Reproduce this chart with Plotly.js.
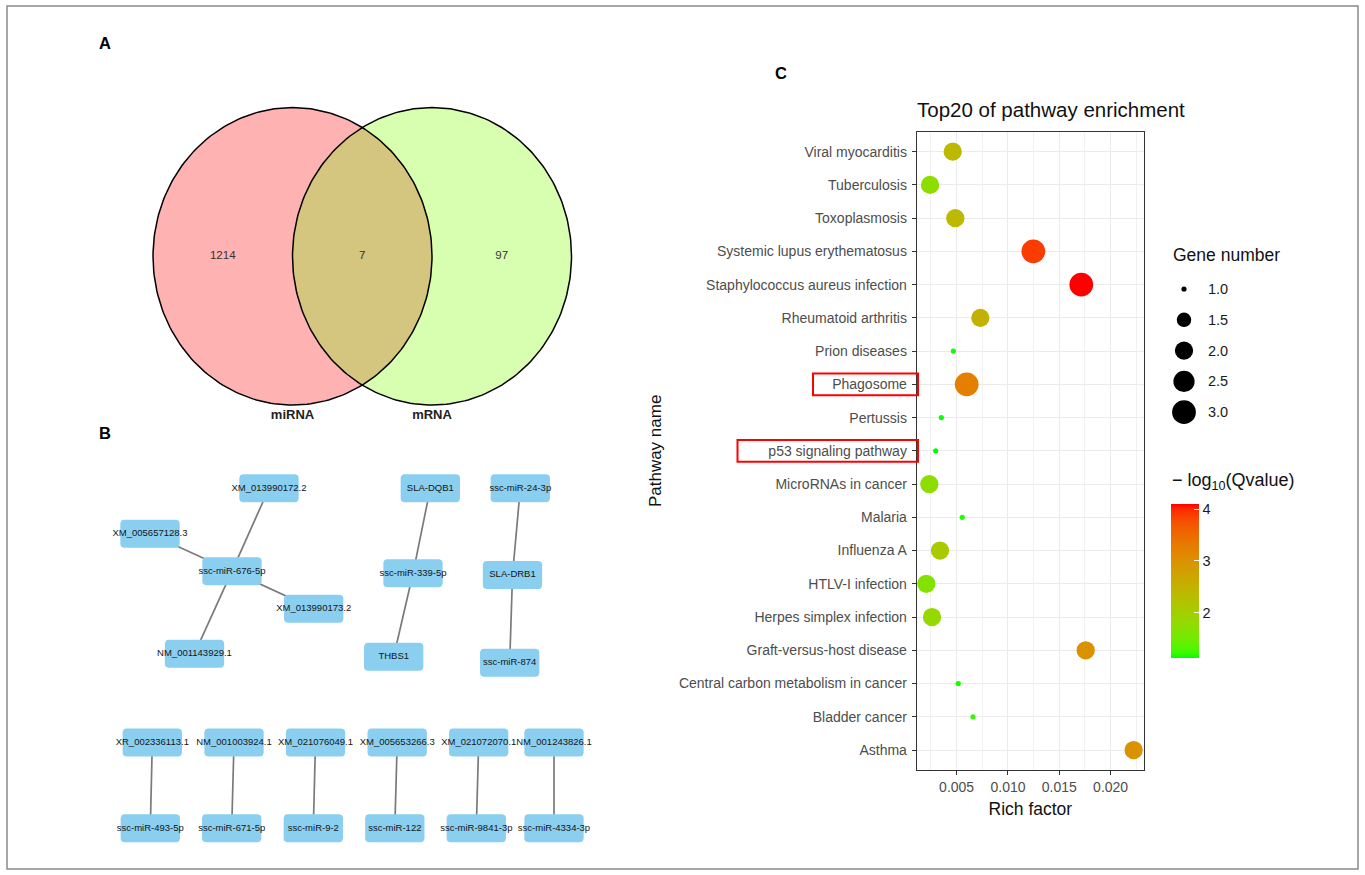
<!DOCTYPE html>
<html>
<head>
<meta charset="utf-8">
<script src="https://cdn.plot.ly/plotly-3.0.1.min.js"></script>
<style>
  html, body { margin: 0; padding: 0; background: #ffffff; }
  #chart { width: 1365px; height: 875px; }
</style>
</head>
<body>
<div id="chart"></div>
<script>
// ---------------- DATA ----------------
// Panel A: Venn
const vennSets = ['miRNA', 'mRNA'];
const vennCounts = [1214, 7, 97]; // miRNA only, both, mRNA only

// Panel B: network (node names + layout coordinates from the network layout)
const nodeNames = [
  'XM_013990172.2', 'XM_005657128.3', 'ssc-miR-676-5p', 'XM_013990173.2', 'NM_001143929.1',
  'SLA-DQB1', 'ssc-miR-339-5p', 'THBS1',
  'ssc-miR-24-3p', 'SLA-DRB1', 'ssc-miR-874',
  'XR_002336113.1', 'NM_001003924.1', 'XM_021076049.1', 'XM_005653266.3', 'XM_021072070.1', 'NM_001243826.1',
  'ssc-miR-493-5p', 'ssc-miR-671-5p', 'ssc-miR-9-2', 'ssc-miR-122', 'ssc-miR-9841-3p', 'ssc-miR-4334-3p'
];
const nodeX = [269, 150, 232, 313.7, 194.5, 430.3, 413, 393.7, 520.3, 512.5, 509.7,
               152.3, 234, 315.5, 397.2, 478.7, 554, 150.3, 231.7, 313.3, 394.8, 476.3, 554];
const nodeY = [488.3, 533.7, 571.2, 608.7, 653.7, 488.3, 573.3, 656.7, 488.3, 575, 662.7,
               742.5, 742.5, 742.5, 742.5, 742.5, 742.5, 828.3, 828.3, 828.3, 828.3, 828.3, 828.3];
const edgeSource = ['ssc-miR-676-5p', 'ssc-miR-676-5p', 'ssc-miR-676-5p', 'ssc-miR-676-5p',
  'ssc-miR-339-5p', 'ssc-miR-339-5p', 'ssc-miR-24-3p', 'ssc-miR-874',
  'ssc-miR-493-5p', 'ssc-miR-671-5p', 'ssc-miR-9-2', 'ssc-miR-122', 'ssc-miR-9841-3p', 'ssc-miR-4334-3p'];
const edgeTarget = ['XM_013990172.2', 'XM_005657128.3', 'XM_013990173.2', 'NM_001143929.1',
  'SLA-DQB1', 'THBS1', 'SLA-DRB1', 'SLA-DRB1',
  'XR_002336113.1', 'NM_001003924.1', 'XM_021076049.1', 'XM_005653266.3', 'XM_021072070.1', 'NM_001243826.1'];

// Panel C: KEGG enrichment
const pathways = ['Viral myocarditis', 'Tuberculosis', 'Toxoplasmosis', 'Systemic lupus erythematosus',
  'Staphylococcus aureus infection', 'Rheumatoid arthritis', 'Prion diseases', 'Phagosome', 'Pertussis',
  'p53 signaling pathway', 'MicroRNAs in cancer', 'Malaria', 'Influenza A', 'HTLV-I infection',
  'Herpes simplex infection', 'Graft-versus-host disease', 'Central carbon metabolism in cancer',
  'Bladder cancer', 'Asthma'];
const richFactor = [0.00462, 0.00241, 0.00487, 0.01247, 0.01714, 0.00731, 0.00468, 0.00598, 0.00351,
  0.00296, 0.00234, 0.00555, 0.00338, 0.00205, 0.00260, 0.01757, 0.00516, 0.00659, 0.02224];
const geneNumber = [2, 2, 2, 3, 3, 2, 1, 3, 1, 1, 2, 1, 2, 2, 2, 2, 1, 1, 2];
const negLog10Q = [2.40, 1.75, 2.40, 3.90, 4.10, 2.50, 1.15, 3.25, 1.14, 1.12, 1.75, 1.18, 2.10, 1.65,
  1.85, 3.00, 1.16, 1.20, 3.00];
const highlighted = ['Phagosome', 'p53 signaling pathway'];
const xTickVals = [0.005, 0.010, 0.015, 0.020];
const xTickText = ['0.005', '0.010', '0.015', '0.020'];
const sizeBreaks = [1.0, 1.5, 2.0, 2.5, 3.0];
const sizeBreakLabels = ['1.0', '1.5', '2.0', '2.5', '3.0'];
const colorTicks = [2, 3, 4];

// ---------------- HELPERS ----------------
const W = 1365, H = 875;
const FONT = 'Liberation Sans, Arial, Helvetica, sans-serif';
const px = v => v / W;
const py = v => 1 - v / H;

// ggplot2-like area size scale (range 1..6 mm)
const gMin = Math.min(...geneNumber), gMax = Math.max(...geneNumber);
function dotDiameter(v) {
  const t = (v - gMin) / (gMax - gMin);
  return 3.7 * (1 + 5 * Math.sqrt(Math.max(0, t))) + 1.5;
}

// Lab interpolation green -> red (like scale_colour_gradient)
function toLin(c) { c /= 255; return c <= 0.04045 ? c / 12.92 : Math.pow((c + 0.055) / 1.055, 2.4); }
function toSrgb(c) { c = c <= 0.0031308 ? 12.92 * c : 1.055 * Math.pow(c, 1 / 2.4) - 0.055; return Math.round(Math.min(1, Math.max(0, c)) * 255); }
function rgb2lab(r, g, b) {
  const R = toLin(r), G = toLin(g), B = toLin(b);
  const X = (0.4124 * R + 0.3576 * G + 0.1805 * B) / 0.95047;
  const Y = (0.2126 * R + 0.7152 * G + 0.0722 * B);
  const Z = (0.0193 * R + 0.1192 * G + 0.9505 * B) / 1.08883;
  const f = t => t > 0.008856 ? Math.cbrt(t) : 7.787 * t + 16 / 116;
  const fx = f(X), fy = f(Y), fz = f(Z);
  return [116 * fy - 16, 500 * (fx - fy), 200 * (fy - fz)];
}
function lab2rgb(L, a, b) {
  const fy = (L + 16) / 116, fx = fy + a / 500, fz = fy - b / 200;
  const inv = t => (t * t * t > 0.008856 ? t * t * t : (t - 16 / 116) / 7.787);
  const X = inv(fx) * 0.95047, Y = inv(fy), Z = inv(fz) * 1.08883;
  const R = 3.2406 * X - 1.5372 * Y - 0.4986 * Z;
  const G = -0.9689 * X + 1.8758 * Y + 0.0415 * Z;
  const B = 0.0557 * X - 0.2040 * Y + 1.0570 * Z;
  return 'rgb(' + toSrgb(R) + ',' + toSrgb(G) + ',' + toSrgb(B) + ')';
}
const labLow = rgb2lab(0, 255, 0), labHigh = rgb2lab(255, 0, 0);
const colorscale = [];
for (let i = 0; i <= 30; i++) {
  const t = i / 30;
  colorscale.push([t, lab2rgb(labLow[0] + t * (labHigh[0] - labLow[0]),
    labLow[1] + t * (labHigh[1] - labLow[1]), labLow[2] + t * (labHigh[2] - labLow[2]))]);
}

// ---------------- PANEL A: VENN ----------------
// unit geometry: circles of radius 1 centred at 0 and 1 (centre distance = radius)
function circlePts(cx, n) {
  const xs = [], ys = [];
  for (let i = 0; i <= n; i++) { const a = 2 * Math.PI * i / n; xs.push(cx + Math.cos(a)); ys.push(Math.sin(a)); }
  return [xs, ys];
}
const cL = circlePts(0, 240), cR = circlePts(1, 240);
const lensX = [], lensY = [];
for (let i = 0; i <= 60; i++) { const a = (-60 + 120 * i / 60) * Math.PI / 180; lensX.push(Math.cos(a)); lensY.push(Math.sin(a)); }
for (let i = 0; i <= 60; i++) { const a = (120 + 120 * i / 60) * Math.PI / 180; lensX.push(1 + Math.cos(a)); lensY.push(Math.sin(a)); }

const traces = [];
traces.push({ x: cL[0], y: cL[1], xaxis: 'x2', yaxis: 'y2', mode: 'lines', fill: 'toself',
  fillcolor: '#FFB2B2', line: { width: 0 }, hoverinfo: 'skip', showlegend: false });
traces.push({ x: cR[0], y: cR[1], xaxis: 'x2', yaxis: 'y2', mode: 'lines', fill: 'toself',
  fillcolor: '#D8FFB0', line: { width: 0 }, hoverinfo: 'skip', showlegend: false });
traces.push({ x: lensX, y: lensY, xaxis: 'x2', yaxis: 'y2', mode: 'lines', fill: 'toself',
  fillcolor: '#D5C67F', line: { width: 0 }, hoverinfo: 'skip', showlegend: false });
traces.push({ x: cL[0].concat([null], cR[0]), y: cL[1].concat([null], cR[1]), xaxis: 'x2', yaxis: 'y2',
  mode: 'lines', line: { color: '#000000', width: 1.5 }, hoverinfo: 'skip', showlegend: false });
traces.push({ x: [-0.5, 0.5, 1.5], y: [0, 0, 0], xaxis: 'x2', yaxis: 'y2', mode: 'text',
  text: vennCounts.map(String), textfont: { family: FONT, size: 11.5, color: '#333333' },
  hoverinfo: 'skip', showlegend: false, cliponaxis: false });
traces.push({ x: [0, 1], y: [-1.075, -1.075], xaxis: 'x2', yaxis: 'y2', mode: 'text',
  text: vennSets.map(s => '<b>' + s + '</b>'), textfont: { family: FONT, size: 13, color: '#222222' },
  hoverinfo: 'skip', showlegend: false, cliponaxis: false });

// ---------------- PANEL B: NETWORK ----------------
const idx = {}; nodeNames.forEach((n, i) => idx[n] = i);
const ex = [], ey = [];
edgeSource.forEach((s, i) => {
  const a = idx[s], b = idx[edgeTarget[i]];
  ex.push(nodeX[a], nodeX[b], null); ey.push(nodeY[a], nodeY[b], null);
});
traces.push({ x: ex, y: ey, xaxis: 'x3', yaxis: 'y3', mode: 'lines', line: { color: '#7a7a7a', width: 1.7 },
  hoverinfo: 'skip', showlegend: false });
const bw = 59.3, bh = 28, br = 3.5;
const bx = [], by = [];
nodeNames.forEach((n, i) => {
  const cx = nodeX[i], cy = nodeY[i];
  const x0 = cx - bw / 2, x1 = cx + bw / 2, y0 = cy - bh / 2, y1 = cy + bh / 2;
  const corners = [[x1 - br, y0 + br, -90], [x1 - br, y1 - br, 0], [x0 + br, y1 - br, 90], [x0 + br, y0 + br, 180]];
  corners.forEach(c => {
    for (let k = 0; k <= 6; k++) {
      const a = (c[2] + 90 * k / 6) * Math.PI / 180;
      bx.push(c[0] + br * Math.cos(a)); by.push(c[1] + br * Math.sin(a));
    }
  });
  bx.push(x1 - br, null); by.push(y0, null);
});
traces.push({ x: bx, y: by, xaxis: 'x3', yaxis: 'y3', mode: 'lines', fill: 'toself', fillcolor: '#8ACEF0',
  line: { width: 0 }, hoverinfo: 'skip', showlegend: false });
traces.push({ x: nodeX, y: nodeY, xaxis: 'x3', yaxis: 'y3', mode: 'text', text: nodeNames,
  textfont: { family: FONT, size: 9.5, color: '#151515' }, hoverinfo: 'skip', showlegend: false, cliponaxis: false });

// ---------------- PANEL C: DOT PLOT ----------------
traces.push({
  x: richFactor, y: pathways, xaxis: 'x', yaxis: 'y', mode: 'markers', type: 'scatter',
  marker: {
    size: geneNumber.map(dotDiameter), color: negLog10Q, colorscale: colorscale, showscale: true,
    line: { width: 0 }, opacity: 1,
    colorbar: {
      x: px(1170.7), xanchor: 'left', xref: 'paper', y: py(658), yanchor: 'bottom', yref: 'paper',
      len: 153.7, lenmode: 'pixels', thickness: 28, thicknessmode: 'pixels',
      xpad: 0, ypad: 0, outlinewidth: 0, tickvals: colorTicks, ticktext: colorTicks.map(String),
      ticks: 'inside', ticklen: 5, tickcolor: '#ffffff', tickwidth: 1, ticklabelstandoff: 4,
      tickfont: { family: FONT, size: 14.5, color: '#1a1a1a' }
    }
  },
  hovertemplate: '%{y}<br>Rich factor %{x}<extra></extra>', showlegend: false, cliponaxis: false
});

// size legend
const legY = sizeBreaks.map((v, i) => 289 + i * 30.8);
traces.push({ x: sizeBreaks.map(() => 1184), y: legY, xaxis: 'x3', yaxis: 'y3', mode: 'markers',
  marker: { size: sizeBreaks.map(dotDiameter), color: '#000000', opacity: 1, line: { width: 0 } },
  hoverinfo: 'skip', showlegend: false, cliponaxis: false });

const annotations = [
  { text: '<b>A</b>', x: px(105), y: py(43), xref: 'paper', yref: 'paper', xanchor: 'center', yanchor: 'middle', showarrow: false, font: { family: FONT, size: 16.5, color: '#000' } },
  { text: '<b>B</b>', x: px(105), y: py(433), xref: 'paper', yref: 'paper', xanchor: 'center', yanchor: 'middle', showarrow: false, font: { family: FONT, size: 16.5, color: '#000' } },
  { text: '<b>C</b>', x: px(781), y: py(73), xref: 'paper', yref: 'paper', xanchor: 'center', yanchor: 'middle', showarrow: false, font: { family: FONT, size: 16.5, color: '#000' } },
  { text: 'Gene number', x: px(1171), y: py(255), xref: 'paper', yref: 'paper', xanchor: 'left', yanchor: 'middle', showarrow: false, font: { family: FONT, size: 17.5, color: '#111' } },
  { text: '\u2212 log<sub>10</sub>(Qvalue)', x: px(1170), y: py(481), xref: 'paper', yref: 'paper', xanchor: 'left', yanchor: 'middle', showarrow: false, font: { family: FONT, size: 18, color: '#111' } }
];
sizeBreakLabels.forEach((t, i) => annotations.push({ text: t, x: 1206, y: legY[i], xref: 'x3', yref: 'y3',
  xanchor: 'left', yanchor: 'middle', showarrow: false, font: { family: FONT, size: 14.5, color: '#1a1a1a' } }));

const shapes = [
  { type: 'rect', xref: 'paper', yref: 'paper', x0: px(7), x1: px(1358), y0: py(869), y1: py(6),
    line: { color: '#8a8a8a', width: 1.5 }, fillcolor: 'rgba(0,0,0,0)' }
];
const hlLeft = { 'Phagosome': 813, 'p53 signaling pathway': 737.5 };
highlighted.forEach(h => {
  const k = pathways.indexOf(h);
  shapes.push({ type: 'rect', xref: 'paper', yref: 'y', x0: px(hlLeft[h]), x1: px(918), y0: k - 0.33, y1: k + 0.33,
    line: { color: '#FF0000', width: 2 }, fillcolor: 'rgba(0,0,0,0)' });
});

const layout = {
  width: W, height: H, margin: { l: 0, r: 0, t: 0, b: 0 },
  paper_bgcolor: '#ffffff', plot_bgcolor: 'rgba(0,0,0,0)',
  font: { family: FONT },
  showlegend: false,
  title: { text: 'Top20 of pathway enrichment', x: px(917), xref: 'paper', xanchor: 'left',
    y: py(110), yref: 'paper', yanchor: 'middle', font: { family: FONT, size: 20.5, color: '#111' } },
  xaxis: {
    domain: [px(916.7), px(1144)], range: [0.00111, 0.02325], anchor: 'y',
    tickvals: xTickVals, ticktext: xTickText, ticks: 'outside', ticklen: 4, tickcolor: '#333', tickwidth: 1,
    showgrid: true, gridcolor: '#EBEBEB', gridwidth: 1, zeroline: false,
    minor: { tickvals: [0.0025, 0.0075, 0.0125, 0.0175, 0.0225], showgrid: true, gridcolor: '#F1F1F1', gridwidth: 1, ticks: '' },
    showline: true, mirror: true, linecolor: '#333333', linewidth: 1,
    tickfont: { family: FONT, size: 14, color: '#4D4D4D' },
    title: { text: 'Rich factor', font: { family: FONT, size: 17.5, color: '#111' }, standoff: 8 },
    automargin: false, fixedrange: true
  },
  yaxis: {
    domain: [py(770), py(131.7)], type: 'category', categoryorder: 'array', categoryarray: pathways,
    range: [pathways.length - 0.4, -0.6], anchor: 'x',
    ticks: 'outside', ticklen: 4, tickcolor: '#333', tickwidth: 1, ticklabelstandoff: 2,
    showgrid: true, gridcolor: '#EBEBEB', gridwidth: 1, zeroline: false,
    showline: true, mirror: true, linecolor: '#333333', linewidth: 1,
    tickfont: { family: FONT, size: 14, color: '#4D4D4D' },
    title: { text: 'Pathway name', font: { family: FONT, size: 17, color: '#111' }, standoff: 12 },
    automargin: false, fixedrange: true
  },
  xaxis2: { domain: [px(100), px(640)], range: [-1.380, 2.491], anchor: 'y2', visible: false, fixedrange: true },
  yaxis2: { domain: [py(460), py(60)], range: [-1.370, 1.320], anchor: 'x2', visible: false, fixedrange: true },
  xaxis3: { domain: [0, 1], range: [0, W], anchor: 'y3', visible: false, fixedrange: true },
  yaxis3: { domain: [0, 1], range: [H, 0], anchor: 'x3', visible: false, fixedrange: true },
  annotations: annotations,
  shapes: shapes
};

Plotly.newPlot('chart', traces, layout, { displayModeBar: false, staticPlot: true });
</script>
</body>
</html>
